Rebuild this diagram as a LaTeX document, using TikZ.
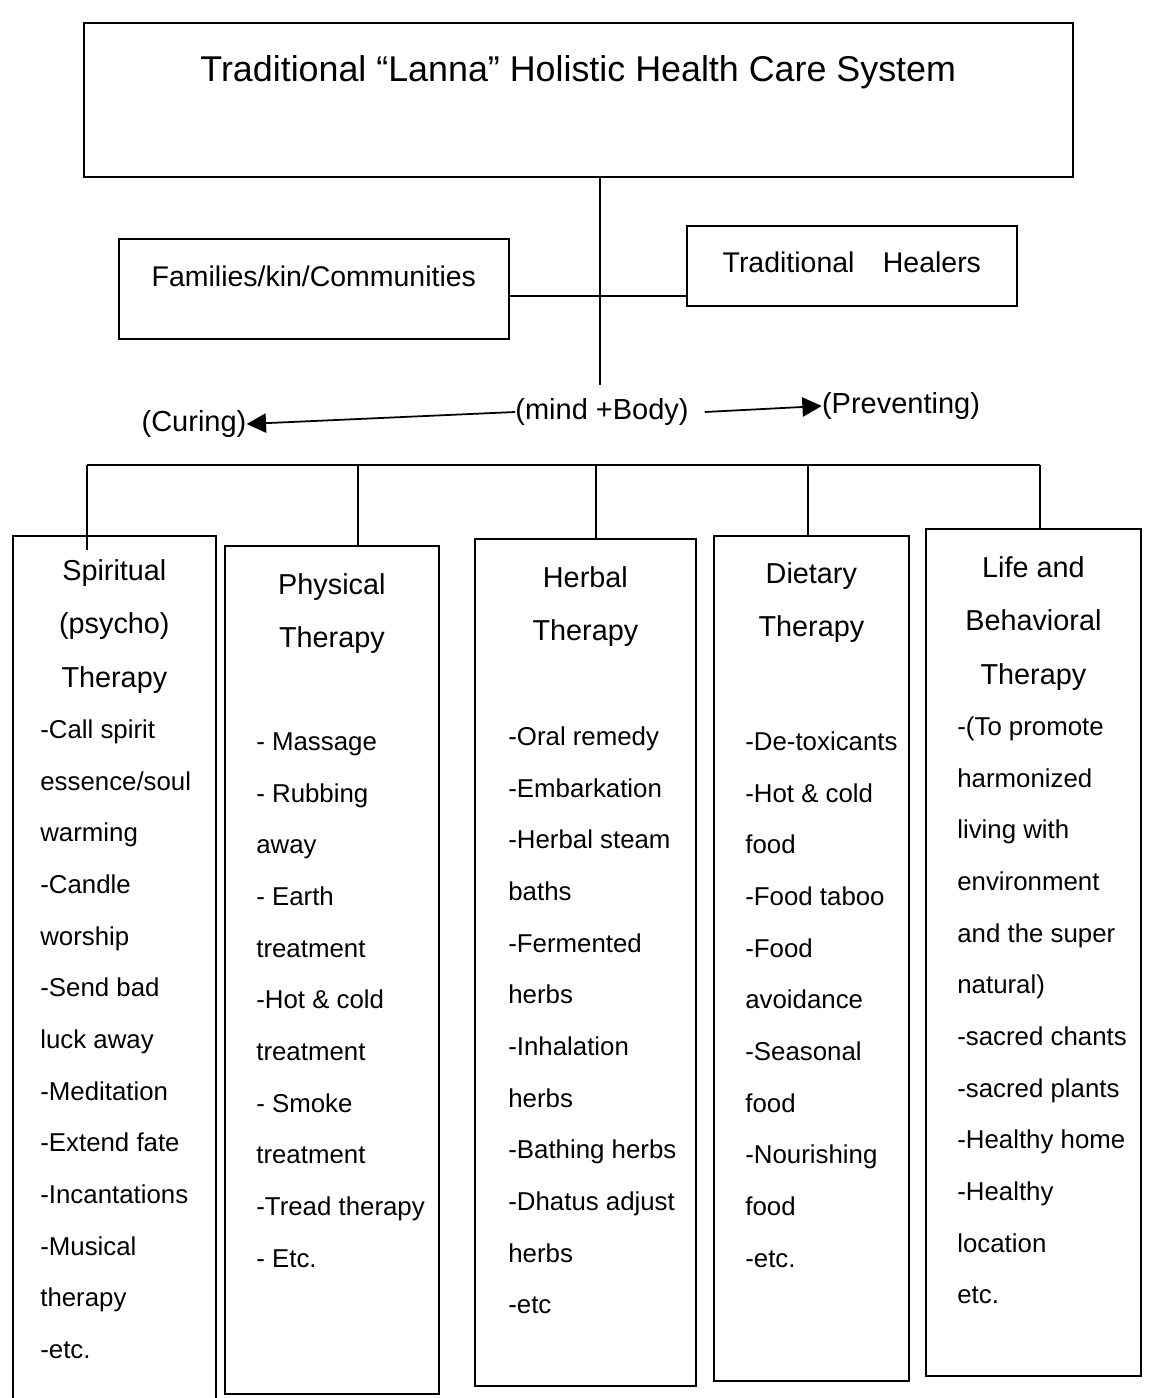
\documentclass[tikz,border=0pt]{standalone}
\usepackage{fontspec}
\setmainfont{Liberation Sans}
\usetikzlibrary{arrows.meta, positioning}

\begin{document}
\begin{tikzpicture}[x=0.02cm, y=-0.02cm]
\tikzset{% one unit = one pixel of the scan
  frame/.style={rectangle, draw, line width=1pt, inner sep=0pt},
  head/.style={align=center, inner sep=0pt, font=\fontsize{16.4}{30.3}\selectfont},
  items/.style={align=left, inner sep=0pt, font=\fontsize{14.7}{29.4}\selectfont},
  flow/.style={inner sep=0pt, font=\fontsize{16.5}{20}\selectfont},
  line/.style={draw, line width=1pt, color=black},
  pointer/.style={line, -{Triangle[length=11pt, width=11pt]}},
}
\useasboundingbox (0,0) rectangle (1150,1398);

\node[frame, anchor=north west, minimum width=19.78cm, text height=1.18cm, text depth=1.9cm,
  font=\fontsize{20.4}{24}\selectfont]
  (SystemTitle) at (83,22) {Traditional “Lanna” Holistic Health Care System};

\node[frame, anchor=north west, minimum width=7.8cm, text height=0.96cm, text depth=1.04cm,
  font=\fontsize{16.2}{20}\selectfont]
  (Families) at (118,238) {Families/kin/Communities};
\node[frame, anchor=north west, minimum width=6.6cm, text height=0.94cm, text depth=0.66cm,
  font=\fontsize{16.2}{20}\selectfont]
  (Healers) at (686,225) {Traditional\quad Healers};

\coordinate (StemEnd) at (600,385);
\coordinate (Junction) at (600,296);
\draw[line] (StemEnd |- SystemTitle.south) -- (StemEnd);
\draw[line] (Families.east |- Junction) -- (Healers.west |- Junction);

\node[flow] (MindBody) at (602,412) {(mind +Body)};
\node[flow] (Curing) at (194,424) {(Curing)};
\node[flow] (Preventing) at (901,406) {(Preventing)};
\draw[pointer] (MindBody.west) -- (Curing.east);
\draw[pointer] ([xshift=9pt]MindBody.east) -- (Preventing.west);

% the five therapies
\node[frame, anchor=north west, minimum width=4.06cm, minimum height=17.6cm] (Spiritual) at (12,535) {};
\node[frame, anchor=north west, minimum width=4.28cm, minimum height=16.96cm] (Physical) at (224,545) {};
\node[frame, anchor=north west, minimum width=4.42cm, minimum height=16.94cm] (Herbal) at (474,538) {};
\node[frame, anchor=north west, minimum width=3.9cm, minimum height=16.9cm] (Dietary) at (713,535) {};
\node[frame, anchor=north west, minimum width=4.3cm, minimum height=16.94cm] (LifeBehavior) at (925,528) {};

\coordinate (BusLeft) at (87,465);
\coordinate (BusRight) at (1040,465);
\coordinate (DropPhysical) at (358,465);
\coordinate (DropHerbal) at (596,465);
\coordinate (DropDietary) at (808,465);
\draw[line] (BusLeft) -- (BusRight);
\draw[line] (BusLeft) -- (BusLeft |- Spiritual.north) -- ++(0,15);
\draw[line] (DropPhysical) -- (DropPhysical |- Physical.north);
\draw[line] (DropHerbal) -- (DropHerbal |- Herbal.north);
\draw[line] (DropDietary) -- (DropDietary |- Dietary.north);
\draw[line] (BusRight) -- (BusRight |- LifeBehavior.north);

\node[head, below=0.49cm of Spiritual.north] (SpiritualHead) {Spiritual\\(psycho)\\Therapy};
\node[items, anchor=north west] (SpiritualList) at ([shift={(0.56cm,-3.69cm)}]Spiritual.north west)
  {-Call spirit\\essence/soul\\warming\\-Candle\\worship\\-Send bad\\luck away\\-Meditation\\
   -Extend fate\\-Incantations\\-Musical\\therapy\\-etc.};

\node[head, below=0.57cm of Physical.north] (PhysicalHead) {Physical\\Therapy};
\node[items, anchor=north west] (PhysicalList) at ([shift={(0.64cm,-3.75cm)}]Physical.north west)
  {- Massage\\- Rubbing\\away\\- Earth\\treatment\\-Hot \& cold\\treatment\\- Smoke\\
   treatment\\-Tread therapy\\- Etc.};

\node[head, below=0.57cm of Herbal.north] (HerbalHead) {Herbal\\Therapy};
\node[items, anchor=north west] (HerbalList) at ([shift={(0.68cm,-3.77cm)}]Herbal.north west)
  {-Oral remedy\\-Embarkation\\-Herbal steam\\baths\\-Fermented\\herbs\\-Inhalation\\herbs\\
   -Bathing herbs\\-Dhatus adjust\\herbs\\-etc};

\node[head, below=0.55cm of Dietary.north] (DietaryHead) {Dietary\\Therapy};
\node[items, anchor=north west] (DietaryList) at ([shift={(0.64cm,-3.93cm)}]Dietary.north west)
  {-De-toxicants\\-Hot \& cold\\food\\-Food taboo\\-Food\\avoidance\\-Seasonal\\food\\
   -Nourishing\\food\\-etc.};

\node[head, below=0.57cm of LifeBehavior.north] (LifeBehaviorHead) {Life and\\Behavioral\\Therapy};
\node[items, anchor=north west] (LifeBehaviorList) at ([shift={(0.64cm,-3.77cm)}]LifeBehavior.north west)
  {-(To promote\\harmonized\\living with\\environment\\and the super\\natural)\\-sacred chants\\
   -sacred plants\\-Healthy home\\-Healthy\\location\\etc.};
\end{tikzpicture}
\end{document}
